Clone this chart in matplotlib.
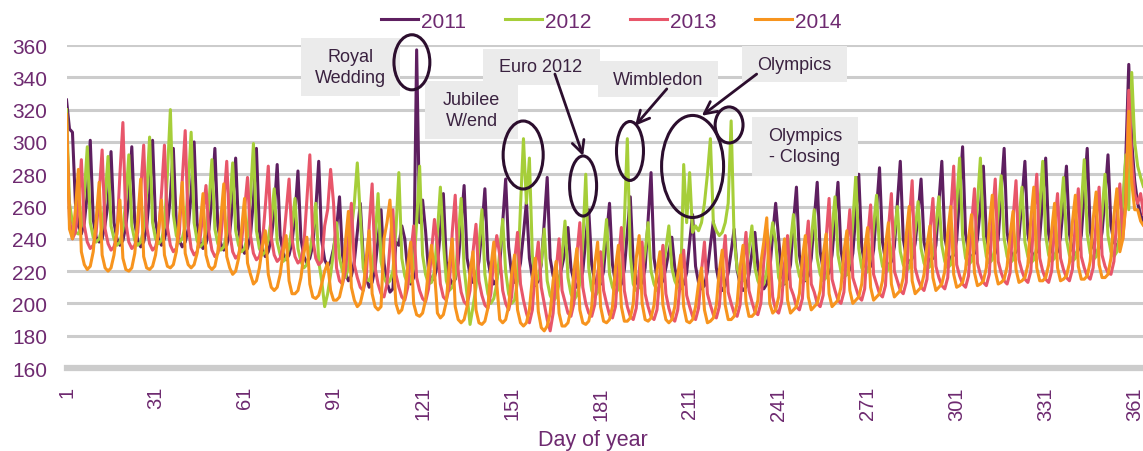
import numpy as np
import matplotlib
matplotlib.use('Agg')
import matplotlib.pyplot as plt
from matplotlib.patches import Ellipse, Rectangle

plt.rcParams['font.family'] = ['Liberation Sans', 'DejaVu Sans']

# daily values, one row per week starting on 1 Jan
y2011 = [
    326, 308, 306, 262, 248, 243, 250,
    268, 301, 252, 241, 238, 240, 249,
    262, 294, 250, 240, 236, 239, 248,
    265, 297, 250, 239, 235, 238, 247,
    268, 301, 251, 240, 236, 240, 248,
    266, 296, 249, 239, 235, 238, 246,
    268, 300, 250, 238, 234, 237, 246,
    265, 296, 248, 237, 233, 236, 244,
    262, 290, 246, 235, 231, 234, 242,
    264, 296, 245, 233, 229, 232, 240,
    257, 286, 242, 231, 227, 230, 238,
    255, 282, 240, 229, 225, 228, 236,
    258, 288, 239, 227, 223, 226, 234,
    246, 266, 230, 219, 214, 217, 226,
    244, 262, 228, 216, 210, 213, 222,
    240, 258, 225, 213, 207, 209, 238,
    236, 248, 240, 220, 212, 216, 357,
    250, 264, 245, 220, 214, 216, 224,
    245, 268, 226, 216, 212, 215, 225,
    248, 273, 228, 218, 213, 216, 226,
    246, 271, 227, 217, 212, 215, 224,
    250, 277, 235, 218, 213, 216, 225,
    243, 263, 228, 216, 211, 214, 224,
    250, 278, 228, 217, 212, 215, 223,
    232, 247, 222, 214, 210, 213, 220,
    240, 258, 224, 214, 210, 212, 220,
    242, 262, 224, 213, 209, 212, 221,
    244, 266, 225, 214, 210, 213, 222,
    252, 281, 228, 216, 211, 214, 222,
    232, 241, 222, 213, 209, 212, 219,
    238, 255, 223, 213, 209, 211, 220,
    236, 251, 222, 212, 208, 211, 219,
    232, 246, 221, 212, 208, 210, 218,
    231, 244, 223, 213, 209, 212, 220,
    243, 262, 240, 218, 212, 215, 224,
    250, 272, 230, 219, 214, 217, 228,
    252, 275, 232, 221, 216, 219, 230,
    252, 275, 233, 222, 218, 221, 231,
    255, 280, 235, 224, 220, 223, 233,
    258, 284, 238, 227, 223, 226, 235,
    262, 288, 240, 229, 225, 228, 237,
    255, 277, 238, 229, 226, 228, 236,
    262, 288, 241, 231, 227, 230, 239,
    268, 297, 243, 232, 228, 231, 240,
    260, 285, 242, 232, 228, 231, 240,
    268, 296, 244, 233, 229, 232, 241,
    264, 288, 243, 233, 229, 232, 241,
    265, 290, 243, 233, 229, 232, 241,
    262, 285, 243, 233, 230, 233, 242,
    268, 296, 245, 235, 231, 234, 244,
    266, 292, 248, 238, 235, 240, 255,
    290, 348, 300, 276, 262, 255, 250,
    258,
]

y2012 = [
    320, 262, 250, 244, 243, 248, 268,
    297, 250, 241, 238, 240, 247, 265,
    291, 248, 240, 236, 238, 246, 264,
    292, 248, 239, 236, 238, 246, 268,
    303, 250, 240, 237, 239, 248, 280,
    320, 255, 242, 238, 240, 248, 272,
    306, 250, 239, 235, 237, 245, 262,
    289, 246, 237, 233, 235, 243, 260,
    287, 245, 236, 232, 234, 242, 266,
    299, 245, 234, 230, 232, 240, 252,
    271, 238, 230, 226, 228, 235, 248,
    265, 234, 226, 222, 224, 232, 244,
    262, 226, 214, 198, 206, 218, 232,
    250, 228, 220, 216, 222, 245, 262,
    287, 255, 222, 215, 214, 220, 240,
    268, 226, 216, 212, 214, 220, 245,
    281, 228, 217, 212, 214, 222, 250,
    285, 230, 218, 212, 213, 220, 244,
    272, 238, 214, 208, 210, 216, 240,
    265, 222, 205, 187, 198, 210, 236,
    258, 218, 206, 200, 203, 212, 232,
    252, 220, 206, 200, 202, 214, 260,
    302, 262, 290, 230, 212, 216, 225,
    246, 214, 205, 201, 204, 212, 230,
    251, 216, 206, 202, 205, 212, 238,
    280, 222, 208, 204, 207, 214, 232,
    252, 218, 210, 206, 209, 218, 250,
    302, 230, 212, 208, 210, 218, 232,
    250, 220, 212, 208, 211, 218, 234,
    248, 222, 214, 210, 213, 286, 250,
    281, 244, 248, 245, 250, 262, 280,
    302, 250, 245, 242, 244, 250, 262,
    313, 240, 222, 215, 214, 220, 234,
    248, 222, 214, 210, 212, 220, 236,
    250, 238, 216, 211, 213, 222, 238,
    255, 226, 217, 213, 215, 223, 240,
    258, 228, 218, 214, 216, 224, 245,
    266, 230, 220, 216, 218, 226, 250,
    279, 234, 222, 218, 220, 228, 248,
    267, 234, 223, 219, 221, 229, 243,
    260, 232, 224, 220, 222, 230, 245,
    263, 234, 225, 221, 223, 231, 248,
    266, 236, 226, 222, 224, 232, 262,
    290, 242, 228, 224, 226, 234, 262,
    290, 242, 229, 225, 227, 235, 256,
    279, 240, 229, 225, 227, 235, 252,
    272, 238, 229, 225, 227, 235, 260,
    288, 242, 230, 226, 228, 236, 255,
    278, 240, 230, 226, 228, 236, 260,
    289, 243, 231, 227, 229, 237, 256,
    280, 242, 232, 229, 232, 242, 262,
    292, 258, 343, 300, 285, 278, 272,
    275,
]

y2013 = [
    312, 252, 240, 244, 262, 289, 248,
    238, 234, 236, 244, 268, 295, 246,
    237, 233, 235, 243, 280, 312, 250,
    238, 234, 236, 244, 270, 298, 248,
    237, 233, 235, 243, 268, 298, 247,
    236, 232, 234, 243, 276, 307, 248,
    234, 230, 232, 240, 256, 273, 244,
    233, 229, 231, 240, 262, 288, 244,
    232, 228, 230, 238, 258, 278, 242,
    231, 227, 229, 237, 260, 285, 241,
    230, 226, 228, 236, 256, 277, 240,
    229, 225, 227, 236, 264, 292, 240,
    228, 224, 226, 248, 258, 283, 262,
    222, 214, 212, 220, 240, 262, 224,
    216, 210, 208, 216, 248, 274, 222,
    212, 206, 204, 212, 236, 258, 218,
    210, 204, 202, 210, 230, 248, 216,
    208, 203, 201, 209, 232, 252, 236,
    212, 204, 202, 210, 244, 267, 220,
    207, 201, 199, 208, 232, 249, 214,
    205, 199, 197, 206, 228, 242, 230,
    208, 200, 196, 204, 226, 244, 212,
    202, 194, 188, 196, 222, 238, 210,
    200, 190, 183, 194, 220, 240, 208,
    201, 194, 192, 200, 230, 250, 210,
    200, 194, 192, 199, 218, 232, 208,
    200, 193, 191, 198, 226, 247, 208,
    198, 192, 190, 197, 220, 238, 206,
    198, 192, 190, 196, 218, 236, 206,
    197, 191, 189, 196, 216, 233, 205,
    198, 192, 190, 197, 220, 238, 206,
    199, 193, 191, 198, 222, 242, 207,
    200, 194, 192, 199, 224, 244, 208,
    201, 195, 193, 200, 226, 246, 232,
    204, 196, 194, 201, 225, 242, 210,
    205, 198, 196, 203, 232, 251, 212,
    207, 200, 198, 205, 240, 265, 215,
    208, 202, 200, 207, 236, 258, 216,
    210, 204, 202, 209, 240, 261, 218,
    212, 206, 204, 211, 246, 268, 220,
    214, 208, 206, 213, 250, 276, 222,
    215, 210, 208, 215, 245, 265, 223,
    216, 211, 209, 216, 256, 285, 224,
    217, 212, 210, 217, 248, 271, 225,
    218, 213, 211, 218, 252, 277, 226,
    219, 214, 212, 219, 252, 276, 227,
    220, 215, 213, 220, 254, 280, 228,
    220, 215, 213, 220, 248, 268, 228,
    221, 216, 214, 221, 250, 271, 229,
    222, 217, 215, 222, 251, 272, 230,
    223, 219, 218, 226, 254, 274, 240,
    262, 332, 290, 268, 262, 268, 255,
    268,
]

y2014 = [
    317, 246, 240, 258, 283, 232, 224,
    221, 223, 232, 252, 275, 230, 222,
    220, 222, 230, 245, 264, 228, 221,
    220, 222, 231, 252, 277, 229, 222,
    221, 223, 230, 245, 264, 230, 223,
    222, 224, 232, 252, 275, 231, 224,
    222, 224, 231, 248, 268, 230, 223,
    221, 223, 232, 252, 274, 229, 222,
    218, 220, 228, 246, 265, 225, 218,
    212, 214, 222, 235, 245, 218, 210,
    208, 210, 218, 232, 242, 214, 206,
    206, 208, 216, 231, 241, 212, 204,
    203, 205, 212, 220, 225, 208, 202,
    202, 204, 212, 238, 257, 210, 202,
    198, 200, 208, 228, 245, 206, 198,
    196, 198, 240, 250, 264, 232, 200,
    194, 196, 204, 224, 238, 200, 193,
    192, 194, 202, 222, 236, 220, 194,
    191, 193, 201, 224, 240, 198, 190,
    188, 190, 198, 220, 232, 196, 188,
    187, 189, 197, 222, 238, 212, 190,
    188, 190, 198, 218, 230, 196, 188,
    186, 188, 196, 216, 228, 195, 185,
    183, 186, 194, 214, 226, 194, 186,
    186, 188, 196, 220, 234, 196, 188,
    187, 189, 198, 224, 238, 198, 189,
    188, 190, 198, 222, 236, 198, 189,
    189, 191, 200, 228, 242, 200, 190,
    189, 191, 199, 220, 232, 199, 190,
    188, 190, 198, 218, 230, 198, 189,
    188, 190, 198, 212, 222, 196, 188,
    189, 191, 199, 220, 233, 199, 190,
    190, 192, 200, 222, 236, 201, 192,
    192, 194, 202, 225, 238, 253, 200,
    194, 196, 204, 226, 240, 202, 194,
    196, 198, 206, 228, 242, 204, 196,
    198, 200, 208, 230, 243, 206, 198,
    200, 202, 210, 232, 245, 208, 200,
    202, 204, 212, 234, 247, 210, 202,
    204, 206, 214, 236, 250, 212, 204,
    206, 208, 216, 242, 260, 214, 206,
    208, 210, 218, 236, 248, 216, 208,
    210, 212, 220, 244, 260, 218, 210,
    211, 213, 221, 240, 255, 219, 211,
    212, 214, 222, 248, 267, 220, 212,
    213, 215, 223, 242, 257, 221, 213,
    214, 216, 224, 252, 272, 222, 214,
    214, 216, 224, 245, 262, 222, 214,
    215, 217, 225, 250, 267, 223, 215,
    215, 217, 226, 252, 269, 224, 216,
    216, 218, 228, 254, 271, 232, 240,
    262, 319, 275, 258, 258, 251, 248,
    252,
]

years = ['2011', '2012', '2013', '2014']
series = [y2011, y2012, y2013, y2014]
colors = ['#5E1F60', '#A6CE39', '#E8566A', '#F7941E']

x_ticks = list(range(1, 362, 30))
y_ticks = list(range(160, 361, 20))

LABEL_COL = '#6E2A70'
NOTE_COL = '#3A2240'
EDGE_COL = '#2C0E2E'
BOX_COL = '#EBEBEB'

fig = plt.figure(figsize=(11.43, 4.52), dpi=100)
ax = fig.add_axes([0.0582, 0.1836, 0.9418, 0.7146])

for name, vals, c in zip(years, series, colors):
    days = np.arange(1, len(vals) + 1)
    ax.plot(days, vals, color=c, lw=2.2, label=name, solid_joinstyle='round')

ax.set_xlim(1, 363.8)
ax.set_ylim(160, 360)
ax.set_xticks(x_ticks)
ax.set_yticks(y_ticks)
ax.set_xticklabels([str(t) for t in x_ticks], rotation=90, va='top')
ax.tick_params(axis='both', length=0, colors=LABEL_COL)
ax.tick_params(axis='y', labelsize=15, pad=14)
ax.tick_params(axis='x', labelsize=14.5, pad=13)
ax.grid(axis='y', color='#CCCCCC', lw=2.2)
ax.set_axisbelow(True)
for s in ['top', 'right', 'left']:
    ax.spines[s].set_visible(False)
ax.spines['bottom'].set_color('#CCCCCC')
ax.spines['bottom'].set_linewidth(4.5)

# axis title sits right at the bottom edge
fig.text(592.5 / 1143, 1 - 446 / 452, 'Day of year', ha='center', va='baseline',
         fontsize=15.5, color=LABEL_COL)

fig.legend(loc='center', bbox_to_anchor=(0.535, 0.951), ncol=4, frameon=False,
           fontsize=15, labelcolor=LABEL_COL, handlelength=1.78,
           handletextpad=0.15, columnspacing=1.85)

# ── event notes: grey boxes, circles and arrows (data coordinates) ──
boxes = [
    # (day0, day1, val0, val1, text, text_day, text_val)
    (80.0, 113.4, 328.4, 364.3, 'Royal\nWedding', 96.7, 346.4),
    (121.8, 153.2, 301.8, 337.9, 'Jubilee\nW/end', 137.5, 319.8),
    (141.4, 180.8, 335.2, 357.5, 'Euro 2012', 160.9, 346.4),
    (180.1, 220.6, 327.6, 350.3, 'Wimbledon', 200.4, 338.9),
    (228.6, 264.0, 336.9, 359.6, 'Olympics', 246.2, 348.2),
    (231.9, 267.9, 279.1, 315.2, 'Olympics\n- Closing', 249.9, 297.5),
]
for d0, d1, v0, v1, txt, td, tv in boxes:
    ax.add_patch(Rectangle((d0, v0), d1 - d0, v1 - v0, facecolor=BOX_COL,
                           edgecolor='none', zorder=5, clip_on=False))
    ax.text(td, tv, txt, ha='center', va='center', fontsize=13, color=NOTE_COL,
            zorder=6, linespacing=1.25, clip_on=False)

circles = [
    # (day, value, width in days, height in value units)
    (117.4, 349.3, 12.1, 34.1),
    (154.9, 291.9, 13.5, 42.1),
    (175.1, 272.7, 9.1, 37.2),
    (190.9, 294.4, 9.1, 36.5),
    (212.0, 284.8, 20.9, 63.2),
    (224.3, 310.5, 9.4, 22.3),
]
for cd, cv, w, h in circles:
    ax.add_patch(Ellipse((cd, cv), w, h, facecolor='none', edgecolor=EDGE_COL,
                         lw=2.2, zorder=7, clip_on=False))

arrows = [
    # (from day, from value, to day, to value)
    (165.6, 342.0, 175.1, 291.3),
    (203.3, 332.8, 192.6, 310.0),
    (233.6, 342.0, 215.1, 316.2),
]
for fd, fv, td, tv in arrows:
    ax.annotate('', xy=(td, tv), xytext=(fd, fv), zorder=8,
                arrowprops=dict(arrowstyle='->', color=EDGE_COL, lw=2.0,
                                mutation_scale=22, shrinkA=0, shrinkB=0))

fig.savefig('out.png', dpi=100)
